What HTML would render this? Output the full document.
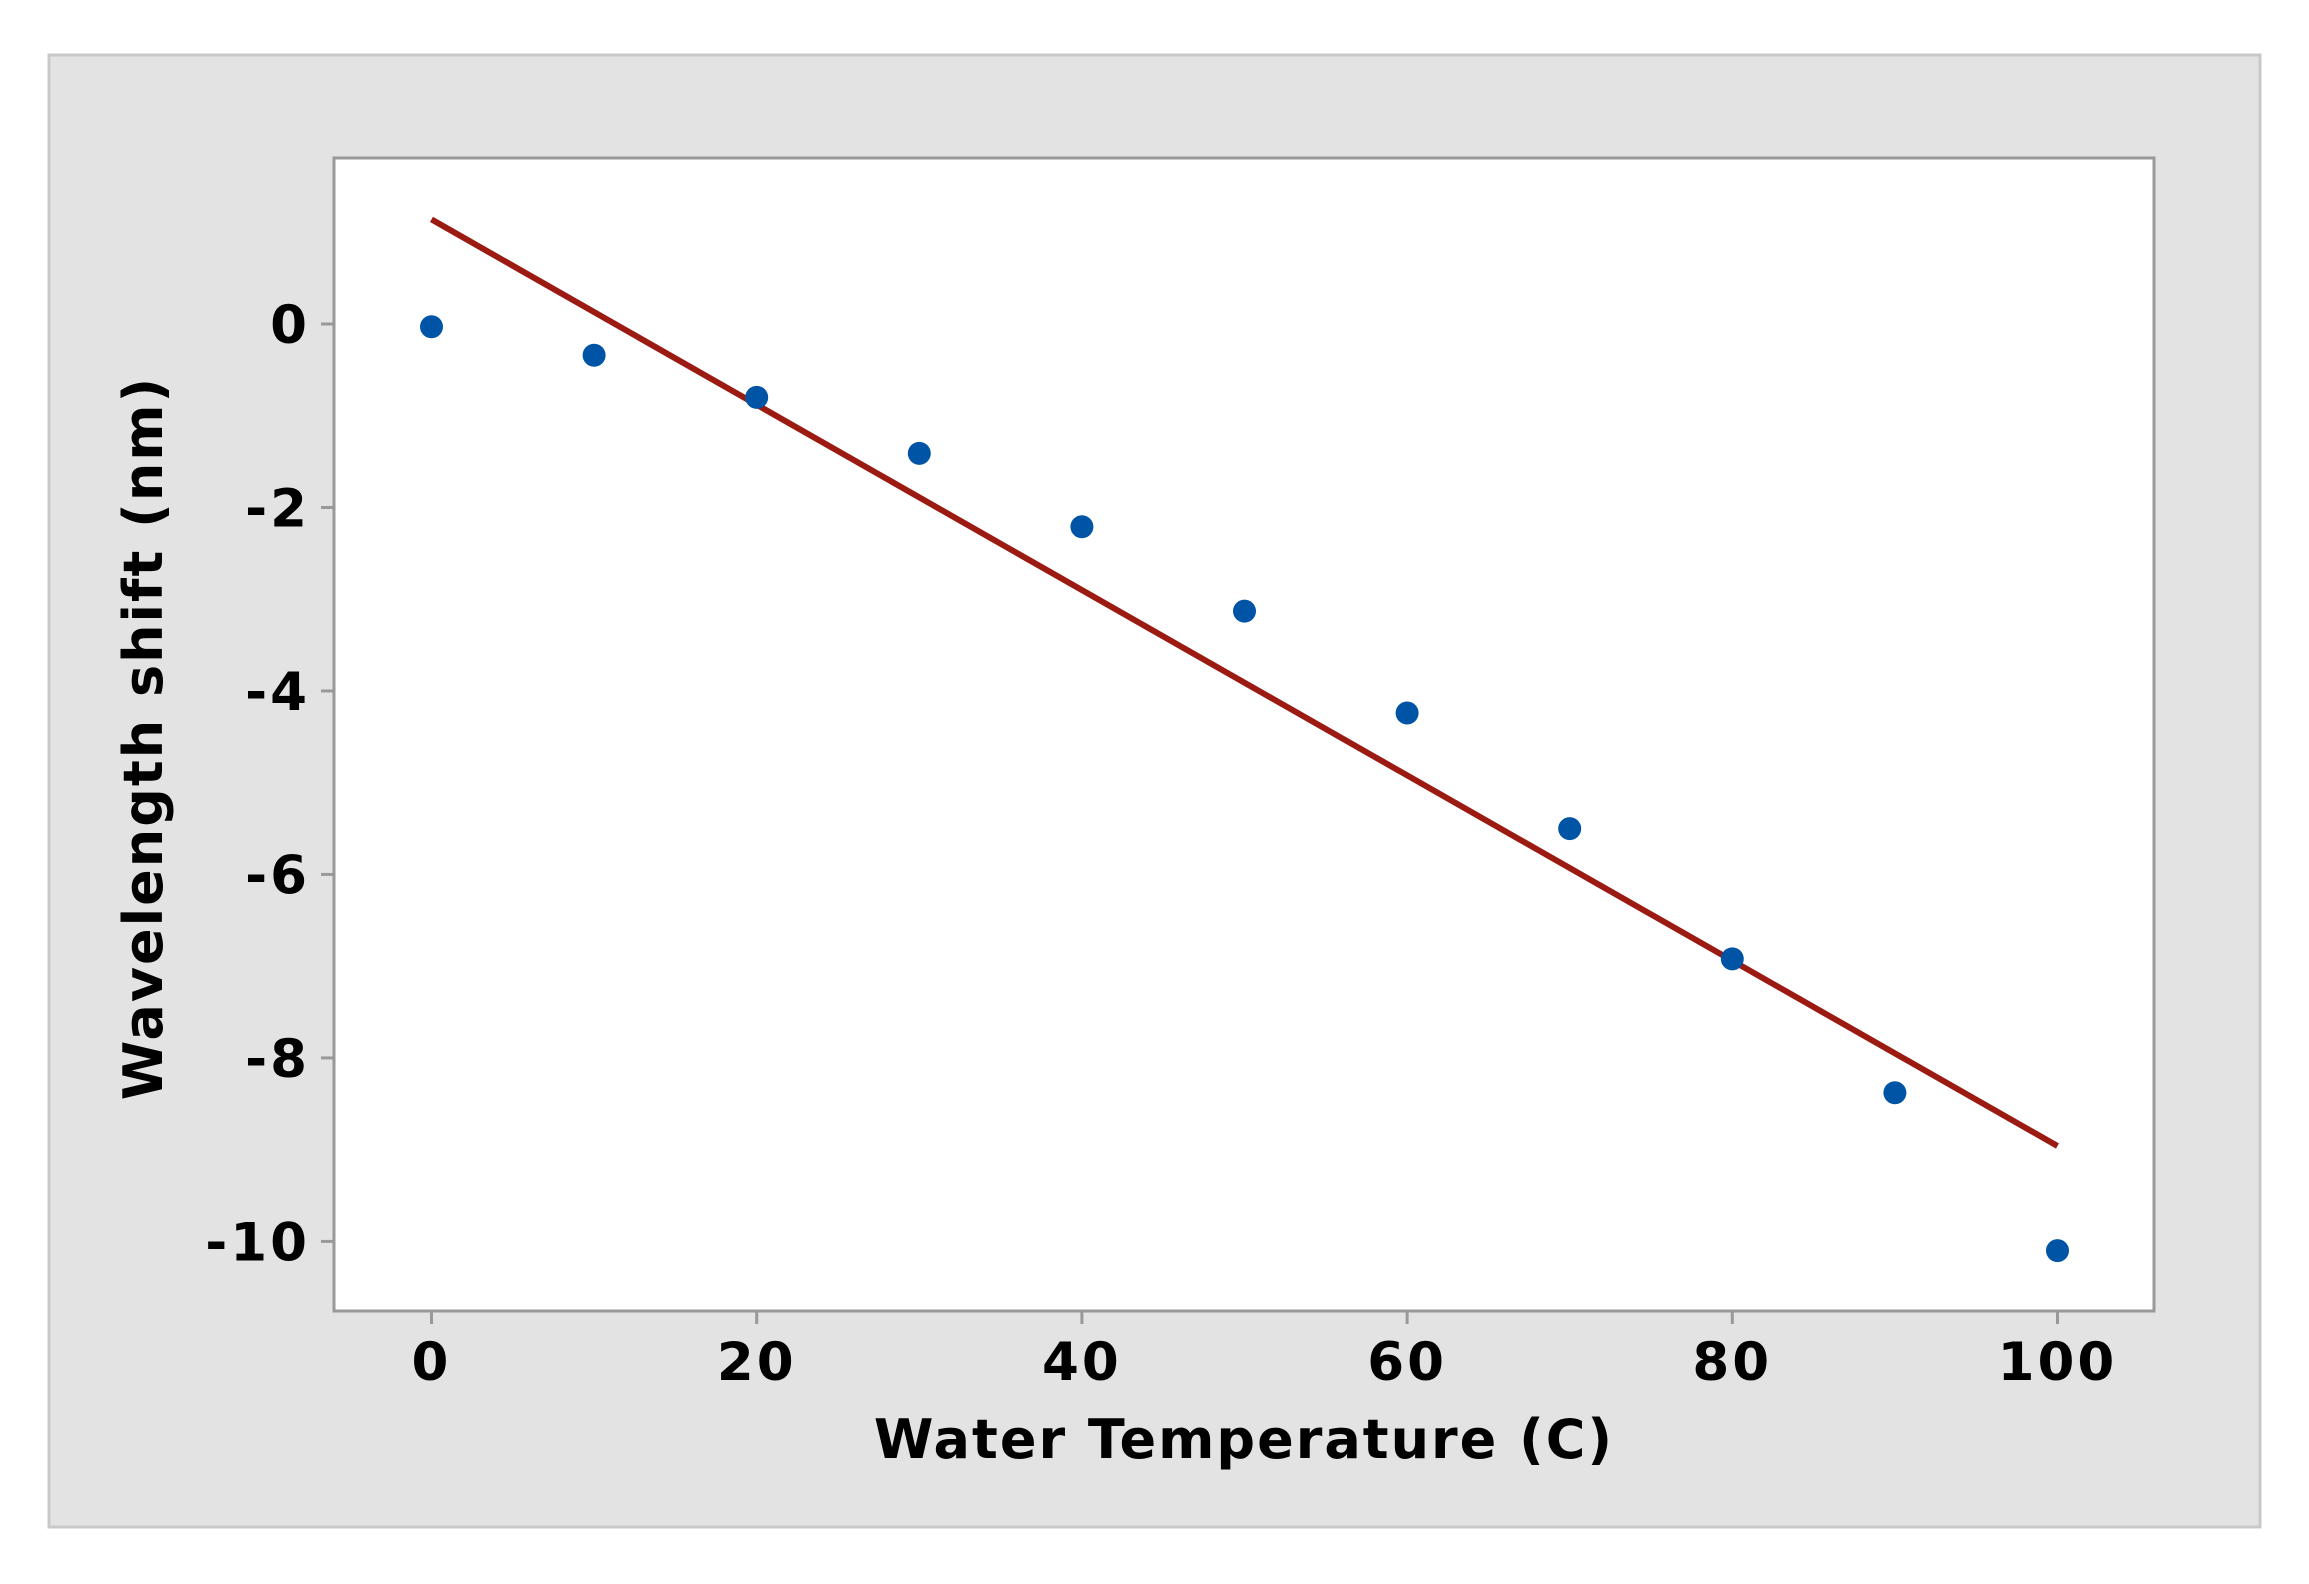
<!DOCTYPE html>
<html><head><meta charset="utf-8"><style>
html,body{margin:0;padding:0;background:#fff;width:2309px;height:1584px;overflow:hidden}
svg text{font-family:"DejaVu Sans","Liberation Sans",sans-serif;font-weight:bold;fill:#000}
</style></head><body>
<svg id="chart" width="2309" height="1584" viewBox="0 0 2309 1584" xmlns="http://www.w3.org/2000/svg">
<rect x="49" y="55" width="2211" height="1472" fill="#e3e3e3" stroke="#c8c8c8" stroke-width="3"/>
<rect x="334" y="158" width="1820" height="1153" fill="#fff" stroke="#999" stroke-width="3"/>
<g id="ticks"></g>
<line id="fit" stroke="#9b1b12" stroke-width="6"/>
<g id="pts"></g>
<text x="1244" y="1458" font-size="54" letter-spacing="2" text-anchor="middle">Water Temperature (C)</text>
<text transform="translate(162,738) rotate(-90)" font-size="54" letter-spacing="2" text-anchor="middle">Wavelength shift (nm)</text>
</svg>
<script>
const temps=[0,10,20,30,40,50,60,70,80,90,100];
const shifts=[-0.03,-0.34,-0.8,-1.41,-2.21,-3.13,-4.24,-5.5,-6.92,-8.38,-10.1];
const xTicks=[0,20,40,60,80,100];
const yTicks=[0,-2,-4,-6,-8,-10];
const fitX=[0,100];
const fitY=[1.14,-8.96];
const ns="http://www.w3.org/2000/svg";
const sx=v=>431.5+v*16.26;
const sy=v=>324-v*91.74;
const tg=document.getElementById('ticks');
xTicks.forEach(t=>{
  const l=document.createElementNS(ns,'line');
  l.setAttribute('x1',sx(t));l.setAttribute('x2',sx(t));l.setAttribute('y1',1311);l.setAttribute('y2',1324);
  l.setAttribute('stroke','#999');l.setAttribute('stroke-width','3');
  
  
  tg.appendChild(l);
  const tx=document.createElementNS(ns,'text');
  tx.setAttribute('x',sx(t));tx.setAttribute('y',1380);tx.setAttribute('font-size','53');tx.setAttribute('letter-spacing','3');tx.setAttribute('text-anchor','middle');
  tx.textContent=t;
  
  
  tg.appendChild(tx);
});
yTicks.forEach(t=>{
  const l=document.createElementNS(ns,'line');
  l.setAttribute('x1',321);l.setAttribute('x2',334);l.setAttribute('y1',sy(t));l.setAttribute('y2',sy(t));
  l.setAttribute('stroke','#999');l.setAttribute('stroke-width','3');
  
  
  tg.appendChild(l);
  const tx=document.createElementNS(ns,'text');
  tx.setAttribute('x',310);tx.setAttribute('y',sy(t)+19);tx.setAttribute('font-size','53');tx.setAttribute('letter-spacing','3');tx.setAttribute('text-anchor','end');
  tx.textContent=t;
  
  
  tg.appendChild(tx);
});
const f=document.getElementById('fit');
f.setAttribute('x1',sx(fitX[0]));f.setAttribute('y1',sy(fitY[0]));
f.setAttribute('x2',sx(fitX[1]));f.setAttribute('y2',sy(fitY[1]));
const pg=document.getElementById('pts');
temps.forEach((t,i)=>{
  const c=document.createElementNS(ns,'circle');
  c.setAttribute('cx',sx(t));c.setAttribute('cy',sy(shifts[i]));c.setAttribute('r','11.5');c.setAttribute('fill','#0054a6');
  
  
  pg.appendChild(c);
});
</script>
</body></html>
